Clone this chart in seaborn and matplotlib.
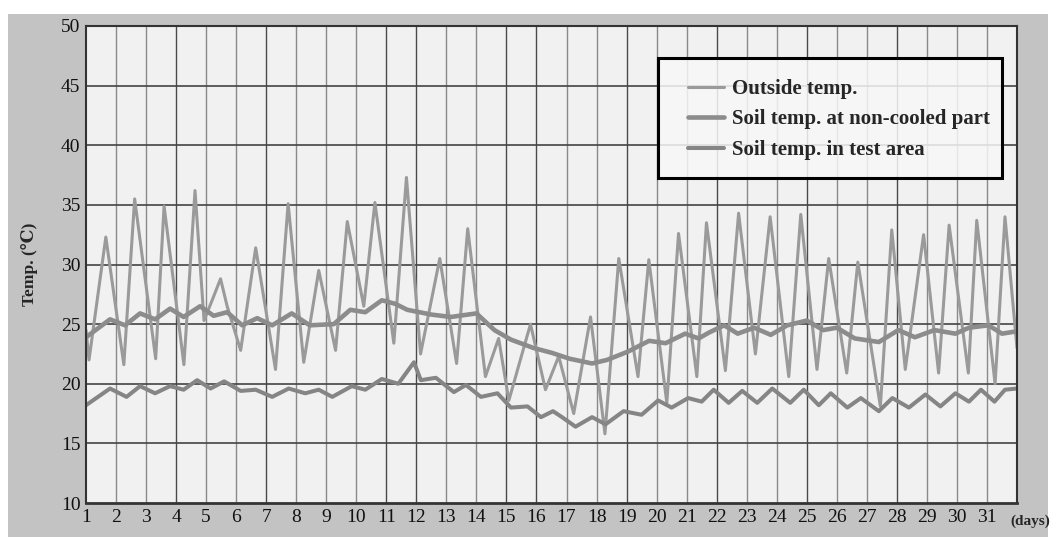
import seaborn as sns
from matplotlib import pyplot as plt
from matplotlib.patches import Rectangle

# Outside temperature: daily highs and lows
outside_day = [1.00, 1.10, 1.66, 2.26, 2.62, 3.32, 3.60, 4.26, 4.63, 4.93, 5.20, 5.48, 5.70,
               6.15, 6.65, 7.31, 7.73, 8.25, 8.75, 9.31, 9.70, 10.25, 10.62, 11.25, 11.67,
               12.14, 12.50, 12.78, 13.34, 13.71, 14.30, 14.74, 15.08, 15.80, 16.30, 16.74,
               17.24, 17.80, 18.28, 18.74, 19.38, 19.74, 20.34, 20.73, 21.34, 21.66, 22.29,
               22.73, 23.29, 23.78, 24.40, 24.80, 25.34, 25.73, 26.33, 26.70, 27.45, 27.83,
               28.28, 28.89, 29.39, 29.74, 30.38, 30.66, 31.27, 31.60, 32.00]
outside_temp = [24.5, 22.0, 32.3, 21.6, 35.5, 22.1, 34.9, 21.6, 36.2, 25.3, 27.0, 28.8, 26.5,
                22.8, 31.4, 21.2, 35.1, 21.8, 29.5, 22.8, 33.6, 26.5, 35.2, 23.4, 37.3,
                22.5, 27.0, 30.5, 21.7, 33.0, 20.6, 23.8, 18.6, 25.0, 19.5, 22.3,
                17.5, 25.6, 15.8, 30.5, 20.6, 30.4, 18.4, 32.6, 20.6, 33.5, 21.1,
                34.3, 22.5, 34.0, 20.6, 34.2, 21.2, 30.5, 20.9, 30.2, 18.1, 32.9,
                21.2, 32.5, 20.9, 33.3, 20.9, 33.7, 20.0, 34.0, 23.0]

# Soil temperature at the non-cooled part
noncooled_day = [1.0, 1.8, 2.3, 2.8, 3.3, 3.8, 4.25, 4.8, 5.25, 5.7, 6.2, 6.7, 7.2, 7.85, 8.45,
                 9.25, 9.8, 10.3, 10.85, 11.3, 11.7, 12.5, 13.15, 14.0, 14.6, 15.15, 15.9,
                 16.5, 17.1, 17.85, 18.35, 19.05, 19.75, 20.3, 20.95, 21.4, 21.75, 22.25,
                 22.7, 23.25, 23.8, 24.35, 25.0, 25.55, 26.0, 26.6, 27.4, 28.05, 28.6, 29.25,
                 29.95, 30.4, 31.05, 31.5, 32.0]
noncooled_temp = [23.9, 25.4, 24.9, 25.9, 25.4, 26.3, 25.6, 26.5, 25.7, 26.0, 24.9, 25.5, 24.9,
                  25.9, 24.9, 25.0, 26.2, 26.0, 27.0, 26.7, 26.2, 25.8, 25.6, 25.9, 24.5,
                  23.7, 23.0, 22.6, 22.1, 21.7, 22.0, 22.7, 23.6, 23.4, 24.2, 23.8, 24.3,
                  24.9, 24.2, 24.7, 24.1, 24.9, 25.3, 24.5, 24.7, 23.8, 23.5, 24.5, 23.9,
                  24.5, 24.2, 24.7, 24.9, 24.2, 24.4]

# Soil temperature in the test area
test_day = [1.0, 1.8, 2.35, 2.8, 3.3, 3.8, 4.25, 4.7, 5.15, 5.6, 6.15, 6.65, 7.2, 7.75, 8.3,
            8.75, 9.2, 9.85, 10.3, 10.85, 11.4, 11.92, 12.15, 12.65, 13.25, 13.65, 14.15,
            14.7, 15.15, 15.7, 16.15, 16.55, 16.85, 17.3, 17.85, 18.3, 18.9, 19.5, 20.05,
            20.5, 21.05, 21.5, 21.9, 22.4, 22.85, 23.35, 23.85, 24.45, 24.9, 25.4, 25.8,
            26.35, 26.8, 27.4, 27.85, 28.4, 28.95, 29.45, 29.95, 30.4, 30.8, 31.25, 31.6, 32.0]
test_temp = [18.2, 19.6, 18.9, 19.8, 19.2, 19.8, 19.5, 20.3, 19.6, 20.2, 19.4, 19.5, 18.9,
             19.6, 19.2, 19.5, 18.9, 19.8, 19.5, 20.4, 20.0, 21.8, 20.3, 20.5, 19.3, 19.9,
             18.9, 19.2, 18.0, 18.1, 17.2, 17.7, 17.2, 16.4, 17.2, 16.6, 17.7, 17.4, 18.6,
             18.0, 18.8, 18.5, 19.5, 18.4, 19.4, 18.4, 19.6, 18.4, 19.5, 18.2, 19.2,
             18.0, 18.8, 17.7, 18.8, 18.0, 19.1, 18.1, 19.2, 18.5, 19.5, 18.5, 19.5, 19.6]

days = list(range(1, 32))
temp_ticks = list(range(10, 51, 5))
dark_days = [4, 7, 11, 12, 15, 16, 19, 22, 25, 28]

sns.set_theme(style="white")
plt.rcParams['font.family'] = ['Liberation Serif', 'DejaVu Serif']

W, H = 1056, 537
fig = plt.figure(figsize=(W / 100, H / 100), dpi=100)
fig.patch.set_facecolor('white')
fig.add_artist(Rectangle((8 / W, 0), 1040 / W, 1 - 14 / H, transform=fig.transFigure,
                         facecolor='#c3c3c3', edgecolor='none', zorder=-10))

ax = fig.add_axes([86 / W, 1 - 503 / H, 931 / W, 477 / H])
ax.set_facecolor('#f1f1f1')

for d in days[1:]:
    ax.axvline(d, color='#4a4a4a' if d in dark_days else '#8a8a8a', lw=1.0, zorder=0.5)
for t in temp_ticks[1:-1]:
    ax.axhline(t, color='#444444', lw=1.2, zorder=0.5)

sns.lineplot(x=outside_day, y=outside_temp, ax=ax, color='#9a9a9a', linewidth=2.2,
             sort=False, estimator=None, label='Outside temp.')
sns.lineplot(x=noncooled_day, y=noncooled_temp, ax=ax, color='#8c8c8c', linewidth=3.3,
             sort=False, estimator=None, label='Soil temp. at non-cooled part')
sns.lineplot(x=test_day, y=test_temp, ax=ax, color='#858585', linewidth=2.9,
             sort=False, estimator=None, label='Soil temp. in test area')
for ln in ax.get_lines():
    ln.set_solid_joinstyle('round')

ax.set_xlim(1, 32)
ax.set_ylim(10, 50)
ax.set_xticks(days)
ax.set_xticklabels([str(d) for d in days])
ax.set_yticks(temp_ticks)
ax.set_xlabel('')
ax.set_ylabel('')
ax.tick_params(axis='both', direction='in', length=4, width=1, labelsize=14,
               colors='#333333', labelcolor='#111111', pad=4)
for side in ['left', 'right', 'top', 'bottom']:
    ax.spines[side].set_visible(True)
    ax.spines[side].set_color('#333333')
    ax.spines[side].set_linewidth(1.5)
ax.spines['bottom'].set_linewidth(2.0)

ax.text((30 - 86) / 931, 0.5, 'Temp. (℃)', rotation=90, ha='center', va='center',
        fontsize=12.5, fontweight='bold', transform=ax.transAxes)
ax.text((1030 - 86) / 931, -(521 - 503) / 477, '(days)', ha='center', va='center',
        fontsize=11, fontweight='bold', transform=ax.transAxes, clip_on=False)

ax.add_patch(Rectangle(((658 - 86) / 931, (503 - 178) / 477), (1002 - 658) / 931,
                       (178 - 58) / 477, transform=ax.transAxes,
                       facecolor=(0.97, 0.97, 0.97, 0.85), edgecolor='black', lw=2.2, zorder=4))
ax.legend(loc='upper left', bbox_to_anchor=((688 - 86) / 931, (503 - 79) / 477),
          frameon=False, prop={'weight': 'bold', 'size': 15}, handlelength=1.75,
          handletextpad=0.35, labelspacing=0.5, borderpad=0, borderaxespad=0)

plt.savefig('out.png', dpi=100)
plt.close()
